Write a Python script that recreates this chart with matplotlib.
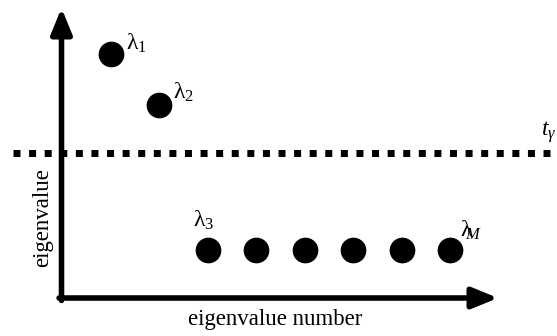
import matplotlib
matplotlib.use("Agg")
import matplotlib.pyplot as plt

plt.rcParams['font.family'] = ['Liberation Serif', 'DejaVu Serif']
plt.rcParams['mathtext.fontset'] = 'custom'
plt.rcParams['mathtext.rm'] = 'Liberation Serif'
plt.rcParams['mathtext.it'] = 'Liberation Serif:italic'

# data
eig_numbers = [1, 2, 3, 4, 5, 6, 7, 8]
eig_values = [10, 7.9, 2, 2, 2, 2, 2, 2]
threshold = 5.94
point_labels = {0: r'$\mathrm{\lambda}_1$', 1: r'$\mathrm{\lambda}_2$',
                2: r'$\mathrm{\lambda}_3$', 7: r'$\mathrm{\lambda}\!\!_M$'}
label_offsets = {0: (10.8, 2.9), 1: (10.1, 5.0), 2: (-10.8, 16.6), 7: (7.2, 9.4)}
xlabel = 'eigenvalue number'
ylabel = 'eigenvalue'
thr_label = r'$t_{\gamma}$'

W, H = 557, 336
fig = plt.figure(figsize=(W / 100, H / 100), dpi=100)
ax = fig.add_axes([0, 0, 1, 1])
# pixel mapping: x px = 111 + (n-1)*sx ; y px = 299 - v*sy
sx, sy = 48.43, 24.5
ax.set_xlim(1 - 111 / sx, 1 + (W - 111) / sx)
ax.set_ylim(-(H - 299) / sy, 299 / sy)
ax.axis('off')

def px2x(p):
    return 1 + (p - 111) / sx

def px2y(p):
    return (299 - p) / sy

# threshold dotted line
ax.plot([px2x(13), px2x(550)], [threshold, threshold], color='black', lw=5.04,
        linestyle=(0, (1.0, 1.227)), dash_capstyle='butt', solid_capstyle='butt')

# axes arrows
x0, y0 = px2x(61.5), px2y(298)
style = '-|>,head_length=1.1,head_width=0.45'
ax.annotate('', xy=(x0, px2y(8)), xytext=(x0, y0 - 0.1),
            arrowprops=dict(arrowstyle=style, lw=4.0, color='black',
                            shrinkA=0, shrinkB=0, mutation_scale=14))
ax.annotate('', xy=(px2x(498), y0), xytext=(x0 - 0.05, y0),
            arrowprops=dict(arrowstyle=style, lw=4.0, color='black',
                            shrinkA=0, shrinkB=0, mutation_scale=14))

# points
ax.plot(eig_numbers, eig_values, 'o', color='black', markersize=17.5, zorder=3)

for i, lab in point_labels.items():
    ax.annotate(lab, xy=(eig_numbers[i], eig_values[i]),
                xytext=label_offsets[i], textcoords='offset points',
                ha='left', va='baseline', fontsize=17, zorder=4)

ax.text(px2x(541), px2y(136), thr_label, ha='left', va='baseline', fontsize=17)

ax.text(px2x(275.5), px2y(320), xlabel, ha='center', va='center', fontsize=16.5)
ax.text(px2x(43), px2y(218), ylabel, ha='center', va='center', fontsize=16.5,
        rotation=90)

fig.savefig('out.png', dpi=100)
